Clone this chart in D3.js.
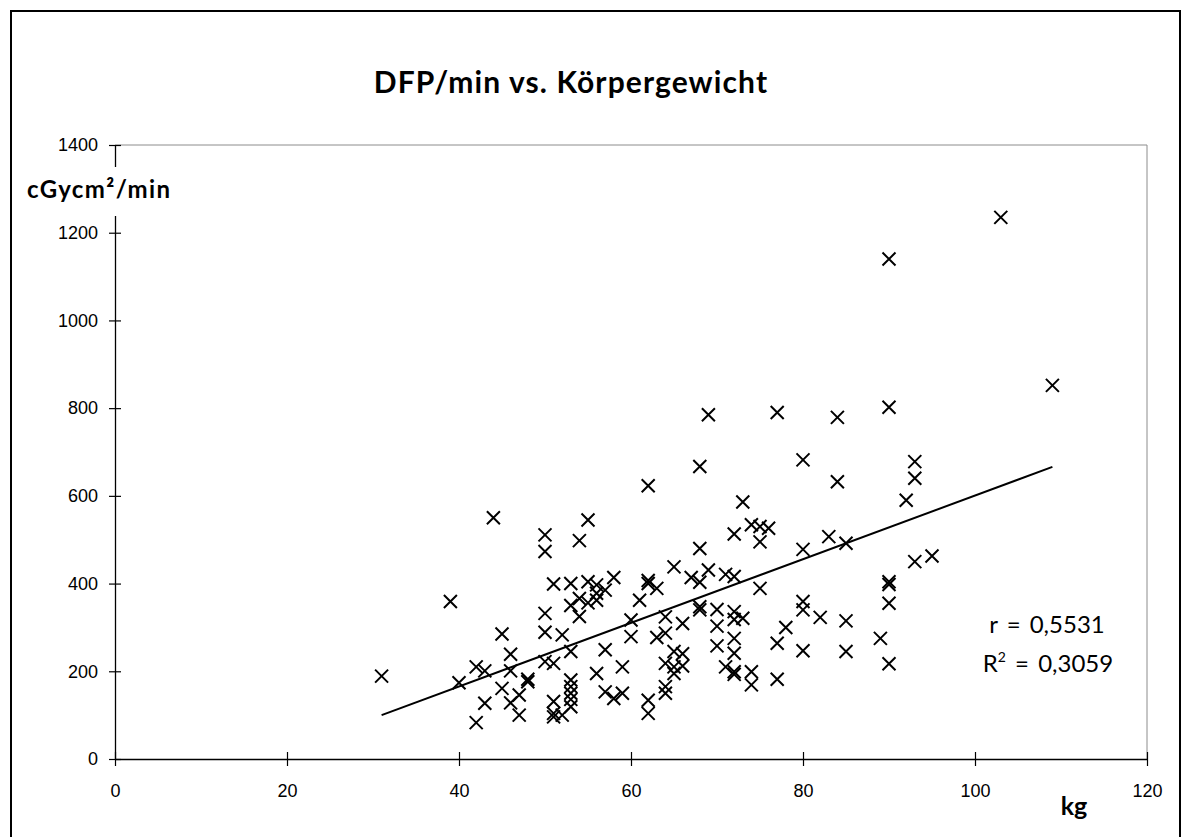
<!DOCTYPE html>
<html>
<head>
<meta charset="utf-8">
<script src="https://cdn.jsdelivr.net/npm/d3@7"></script>
<style>
  body { margin: 0; background: #fff; }
  svg { font-family: Lato, "Open Sans", sans-serif; }
  .tick text { font-size: 18px; fill: #000; }
</style>
</head>
<body>
<svg id="chart"></svg>
<script>
// Körpergewicht (kg) und DFP/min (cGycm²/min), Punkt für Punkt
var weights = [31, 39, 40, 42, 42, 43, 43, 44, 45, 45, 46, 46, 46, 47, 47, 48, 48,
    50, 50, 50, 50, 50, 51, 51, 51, 51, 51, 52, 52,
    53, 53, 53, 53, 53, 53, 53, 53, 54, 54, 54, 55, 55, 55,
    56, 56, 56, 56, 57, 57, 57, 58, 58, 59, 59, 60, 60, 61,
    62, 62, 62, 62, 62, 63, 63, 64, 64, 64, 64, 64,
    65, 65, 65, 65, 66, 66, 66, 67, 68, 68, 68, 68, 68, 69, 69,
    70, 70, 70, 71, 71, 72, 72, 72, 72, 72, 72, 72, 72, 73, 73,
    74, 74, 74, 75, 75, 75, 76, 77, 77, 77, 78,
    80, 80, 80, 80, 80, 82, 83, 84, 84, 85, 85, 85, 89,
    90, 90, 90, 90, 90, 90, 92, 93, 93, 93, 95, 103, 109];
var doses = [189, 359, 174, 210, 83, 201, 127, 550, 285, 161, 239, 201, 128, 146, 100, 182, 176,
    511, 473, 332, 289, 222, 399, 218, 131, 104, 96, 283, 100,
    400, 350, 245, 180, 165, 150, 136, 119, 498, 366, 325, 545, 404, 356,
    397, 378, 362, 195, 385, 249, 153, 414, 138, 210, 150, 317, 279, 362,
    623, 407, 400, 134, 104, 389, 277, 324, 287, 218, 165, 150,
    438, 245, 210, 195, 309, 240, 212, 414, 667, 480, 403, 347, 340, 785, 431,
    341, 303, 258, 421, 210, 513, 416, 336, 318, 275, 241, 199, 193, 586, 321,
    534, 199, 169, 530, 495, 389, 526, 790, 264, 182, 300,
    682, 478, 359, 340, 247, 323, 507, 779, 632, 492, 315, 245, 275,
    1140, 802, 404, 398, 355, 217, 590, 678, 640, 450, 463, 1235, 852];

// Regressionsgerade (Endpunkte)
var trendX = [31, 109];
var trendY = [100, 666];

var xTicks = [0, 20, 40, 60, 80, 100, 120];
var yTicks = [0, 200, 400, 600, 800, 1000, 1200, 1400];

var title = 'DFP/min vs. Körpergewicht',
    yLabel = 'cGycm²/min',
    xLabel = 'kg';

var W = 1192, H = 837;
var margin = { top: 145, left: 115 },
    width = 1032,
    height = 614;

var x = d3.scaleLinear().domain([0, 120]).range([0, width]),
    y = d3.scaleLinear().domain([0, 1400]).range([height, 0]);

var svg = d3.select('#chart').attr('width', W).attr('height', H);

// Rahmen
svg.append('rect')
    .attr('x', 11).attr('y', 11)
    .attr('width', 1169).attr('height', 850)
    .attr('fill', 'none').attr('stroke', '#000').attr('stroke-width', 2);

svg.append('text')
    .attr('x', 571).attr('y', 93)
    .attr('text-anchor', 'middle')
    .style('font-size', '30px').style('font-weight', 'bold')
    .style('letter-spacing', '1.1px')
    .text(title);

var g = svg.append('g')
    .attr('transform', 'translate(' + margin.left + ',' + margin.top + ')');

// Plotfläche oben/rechts grau
g.append('path')
    .attr('d', 'M0,0H' + width + 'V' + height)
    .attr('fill', 'none').attr('stroke', '#8c8c8c').attr('stroke-width', 1);

var xAxis = g.append('g')
    .attr('transform', 'translate(0,' + height + ')')
    .call(d3.axisBottom(x).tickValues(xTicks).tickFormat(d3.format('d'))
        .tickSize(7).tickPadding(18).tickSizeOuter(0));
xAxis.selectAll('.tick line').attr('y1', -7);

var yAxis = g.append('g')
    .call(d3.axisLeft(y).tickValues(yTicks).tickFormat(d3.format('d'))
        .tickSize(6).tickPadding(11).tickSizeOuter(0));
yAxis.selectAll('.tick line').attr('x1', 6);

g.selectAll('.domain').attr('stroke', '#000').attr('stroke-width', 1.3);
g.selectAll('.tick line').attr('stroke', '#000').attr('stroke-width', 1.2);

// Achsentitel y mit weissem Hintergrund
svg.append('rect')
    .attr('x', 24).attr('y', 167).attr('width', 152).attr('height', 49)
    .attr('fill', '#fff');
svg.append('text')
    .attr('x', 27).attr('y', 198)
    .style('font-size', '24px').style('font-weight', 'bold')
    .style('letter-spacing', '1.4px')
    .text(yLabel);

svg.append('text')
    .attr('x', 1074).attr('y', 815)
    .attr('text-anchor', 'middle')
    .style('font-size', '25px').style('font-weight', 'bold')
    .text(xLabel);

// Trendlinie
g.append('line')
    .attr('x1', x(trendX[0])).attr('y1', y(trendY[0]))
    .attr('x2', x(trendX[1])).attr('y2', y(trendY[1]))
    .attr('stroke', '#000').attr('stroke-width', 2);

// Punkte als Kreuze
var s = 6.5;
g.selectAll('path.pt')
    .data(weights)
    .enter()
    .append('path')
    .attr('class', 'pt')
    .attr('d', function (d, i) {
        var cx = x(d), cy = y(doses[i]);
        return 'M' + (cx - s) + ',' + (cy - s) + 'L' + (cx + s) + ',' + (cy + s) +
            'M' + (cx - s) + ',' + (cy + s) + 'L' + (cx + s) + ',' + (cy - s);
    })
    .attr('stroke', '#000').attr('stroke-width', 2).attr('fill', 'none');

// Korrelation
var t1 = svg.append('text')
    .attr('x', 1047).attr('y', 633)
    .attr('text-anchor', 'middle')
    .style('font-size', '24px')
    .style('word-spacing', '3px')
    .text('r = 0,5531');
var t2 = svg.append('text')
    .attr('x', 1048).attr('y', 672)
    .attr('text-anchor', 'middle')
    .style('font-size', '24px')
    .style('word-spacing', '3px');
t2.append('tspan').text('R');
t2.append('tspan').attr('dy', -10).style('font-size', '14px').text('2');
t2.append('tspan').attr('dy', 10).text(' = 0,3059');
</script>
</body>
</html>
